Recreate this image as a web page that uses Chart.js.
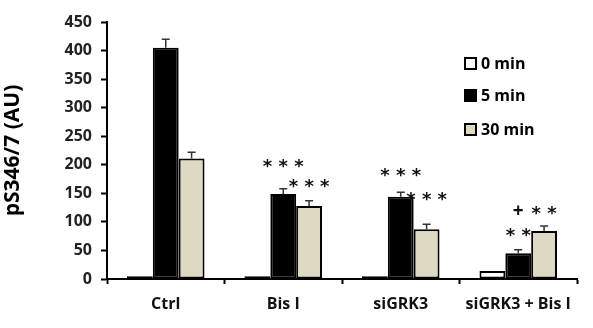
<!DOCTYPE html>
<html>
<head>
<meta charset="utf-8">
<script src="https://cdn.jsdelivr.net/npm/chart.js@4/dist/chart.umd.min.js"></script>
<style>
  html, body { margin: 0; padding: 0; background: #fff; }
  #wrap { width: 593px; height: 328px; position: relative; }
</style>
</head>
<body>
<div id="wrap"><canvas id="grafico"></canvas></div>
<script>
var grupos = ['Ctrl', 'Bis I', 'siGRK3', 'siGRK3 + Bis I'];
var series = ['0 min', '5 min', '30 min'];
var valores0 = [5, 5, 5, 14];
var valores5 = [405, 149, 144, 45];
var valores30 = [211, 128, 87, 84];
var erro0 = [0, 0, 0, 0];
var erro5 = [15, 9, 8, 6];
var erro30 = [11, 9, 9, 9];
var ticksY = [0, 50, 100, 150, 200, 250, 300, 350, 400, 450];
// marcas de significancia: [serie, grupo, texto, valor onde fica]
var marcas = [
	[1, 1, '* * *', 203],
	[2, 1, '* * *', 168],
	[1, 2, '* * *', 187],
	[2, 2, '* * *', 145],
	[1, 3, '* *', 81],
	[1, 3, '+', 121],
	[2, 3, '* *', 121]
];

var cores = ['#ffffff', '#000000', '#ddd9c3'];
var erros = [erro0, erro5, erro30];
var fonte = "'Open Sans', 'DejaVu Sans', sans-serif";

var pluginErros = {
	id: 'erros',
	afterDatasetsDraw: function(chart) {
		var ctx = chart.ctx;
		var y = chart.scales.y;
		ctx.save();
		ctx.strokeStyle = '#333';
		ctx.lineWidth = 1.5;
		chart.data.datasets.forEach(function(ds, i) {
			var meta = chart.getDatasetMeta(i);
			meta.data.forEach(function(bar, j) {
				var e = erros[i][j];
				if (!e) return;
				var yTop = y.getPixelForValue(ds.data[j] + e);
				ctx.beginPath();
				ctx.moveTo(bar.x, bar.y);
				ctx.lineTo(bar.x, yTop);
				ctx.moveTo(bar.x - 4, yTop);
				ctx.lineTo(bar.x + 4, yTop);
				ctx.stroke();
			});
		});
		ctx.fillStyle = '#111';
		ctx.textAlign = 'center';
		ctx.textBaseline = 'middle';
		marcas.forEach(function(m) {
			var bar = chart.getDatasetMeta(m[0]).data[m[1]];
			var py = y.getPixelForValue(m[3]);
			if (m[2] === '+') {
				ctx.font = 'bold 19px ' + fonte;
				ctx.fillText(m[2], bar.x, py + 2);
			} else {
				ctx.font = 'bold 18px "DejaVu Sans"';
				ctx.fillText(m[2], bar.x, py + 4);
			}
		});
		// legenda
		var lx = chart.chartArea.left + 358;
		var ly = [63, 95, 129];
		ctx.textAlign = 'left';
		ctx.font = 'bold 16px ' + fonte;
		chart.data.datasets.forEach(function(ds, i) {
			ctx.fillStyle = cores[i];
			ctx.fillRect(lx, ly[i] - 5, 11, 11);
			ctx.strokeStyle = '#000';
			ctx.lineWidth = 2;
			ctx.strokeRect(lx, ly[i] - 5, 11, 11);
			ctx.fillStyle = '#000';
			ctx.fillText(ds.label, lx + 16, ly[i] + 1);
		});
		ctx.restore();
	}
};

var valores = [valores0, valores5, valores30];
var datasets = series.map(function(s, i) {
	return {
		label: s,
		data: valores[i],
		backgroundColor: cores[i],
		borderColor: '#000',
		borderWidth: 2,
		borderSkipped: false,
		categoryPercentage: 0.66,
		barPercentage: 1.0
	};
});

var grafico = new Chart(document.getElementById('grafico').getContext('2d'), {
	type: 'bar',
	data: { labels: grupos, datasets: datasets },
	options: {
		responsive: true,
		maintainAspectRatio: false,
		animation: false,
		layout: { padding: { top: 22, right: 16, left: 0, bottom: 0 } },
		plugins: {
			legend: { display: false },
			tooltip: { enabled: false }
		},
		scales: {
			x: {
				grid: { drawOnChartArea: false, offset: true, tickLength: 5, tickColor: '#000', tickWidth: 2 },
				border: { color: '#000', width: 2 },
				ticks: { color: '#111', font: { family: fonte, size: 16, weight: 'bold' }, padding: 11 },
				afterFit: function(s) { s.height = 49; }
			},
			y: {
				min: 0,
				max: 450,
				afterBuildTicks: function(s) { s.ticks = ticksY.map(function(v) { return { value: v }; }); },
				grid: { drawOnChartArea: false, tickLength: 6, tickColor: '#000', tickWidth: 2 },
				border: { color: '#000', width: 2 },
				ticks: { color: '#222', font: { family: fonte, size: 16, weight: 'bold' }, padding: 9 },
				title: { display: true, text: 'pS346/7 (AU)', color: '#000', font: { family: fonte, size: 21, weight: 'bold' }, padding: { top: 0, bottom: 6 } },
				afterFit: function(s) { s.width = 107; }
			}
		}
	},
	plugins: [pluginErros]
});
</script>
</body>
</html>
